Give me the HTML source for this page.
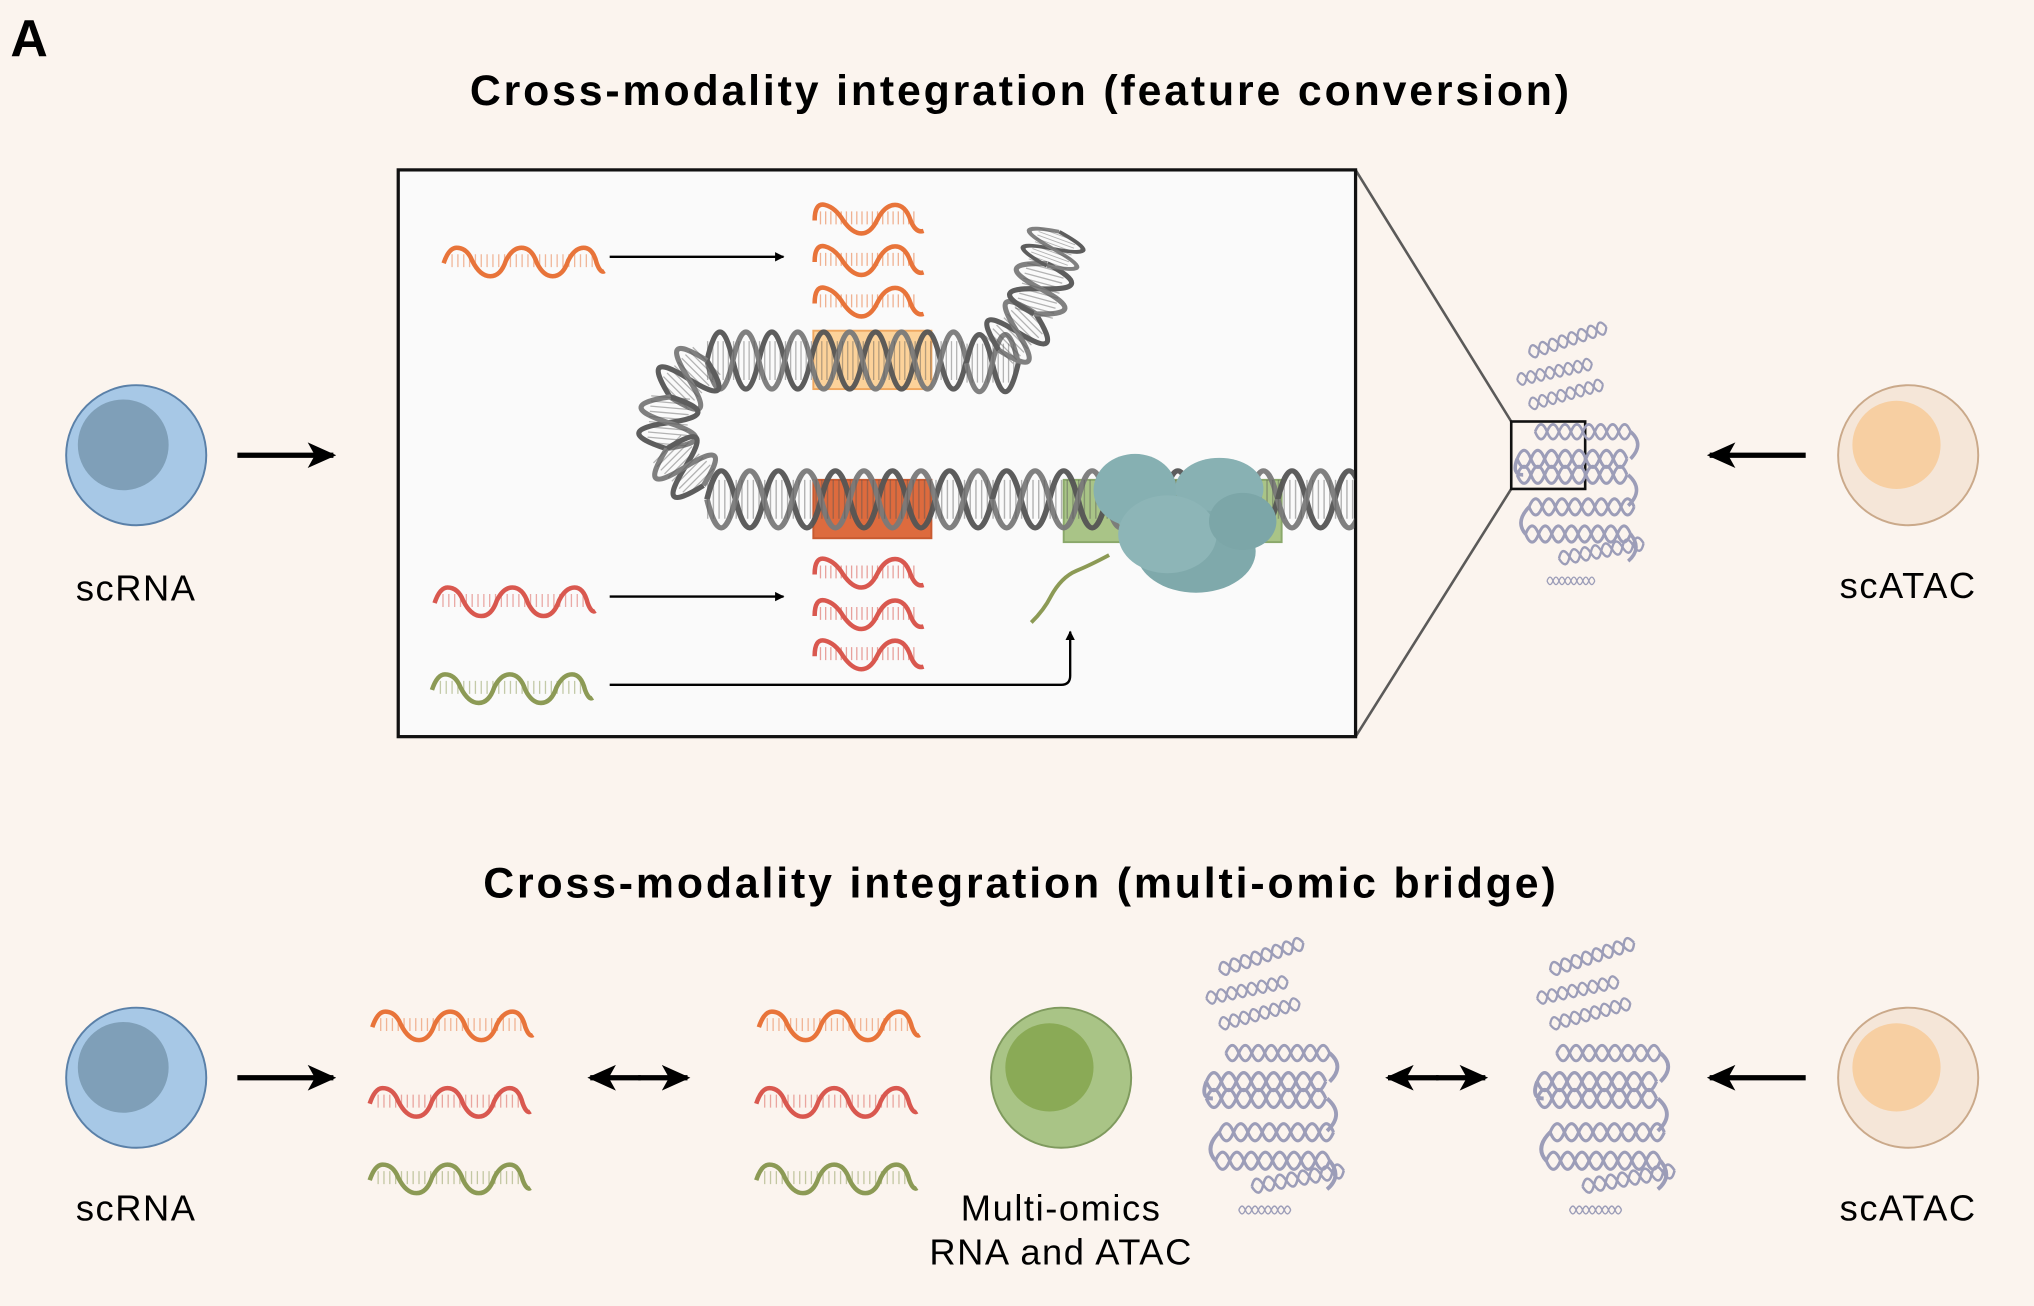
<!DOCTYPE html>
<html><head><meta charset="utf-8"><style>
html,body{margin:0;padding:0;background:#fbf4ee;}
svg{display:block}
text{font-family:"Liberation Sans",sans-serif;}
</style></head><body>
<svg width="2034" height="1306" viewBox="0 0 1568 1007" preserveAspectRatio="none" xmlns="http://www.w3.org/2000/svg">
<defs>
<marker id="ah" viewBox="0 0 10 10" refX="9" refY="5" markerWidth="4" markerHeight="4" orient="auto-start-reverse"><path d="M0,0 L10,5 L0,10 z" fill="#000"/></marker>
<marker id="as" viewBox="0 0 10 10" refX="9" refY="5" markerWidth="5.5" markerHeight="5.5" orient="auto-start-reverse"><path d="M0,0.5 L10,5 L0,9.5 L2.5,5 z" fill="#000"/></marker>
<clipPath id="boxclip"><rect x="308" y="132" width="736" height="435"/></clipPath>
<g id="rnaS">
<path d="M0,8 q0,-14 8,-12 q8,2 14,12 q7,10 14,10 q7,0 12,-10 q6,-12 14,-12 q8,0 12,12 q4,10 10,8" fill="none" stroke="currentColor" stroke-width="3.5"/>
<path d="M4,6 L80,6" stroke="currentColor" stroke-width="10" stroke-dasharray="1 3" opacity="0.55" fill="none"/>
</g>
<g id="rnaL">
<path d="M0,8 q4,-12 10,-12 q8,0 12,10 q6,12 14,12 q8,0 12,-12 q5,-10 12,-10 q8,0 12,12 q5,10 12,10 q8,0 12,-12 q5,-10 12,-10 q7,0 10,12 q3,8 6,6" fill="none" stroke="currentColor" stroke-width="3.5"/>
<path d="M6,6 L118,6" stroke="currentColor" stroke-width="10" stroke-dasharray="1 3.5" opacity="0.5" fill="none"/>
</g>
<g id="hrow">
<path d="M0,0 q5,-12 10,0 t10,0 t10,0 t10,0 t10,0 t10,0 t10,0 t10,0" fill="none" stroke="#9c9db8" stroke-width="2.2"/>
<path d="M0,0 q5,12 10,0 t10,0 t10,0 t10,0 t10,0 t10,0 t10,0 t10,0" fill="none" stroke="#9c9db8" stroke-width="2.2"/>
</g>
<g id="chrom">
<use href="#hrow" transform="translate(15,18) rotate(-18) scale(0.85)"/>
<use href="#hrow" transform="translate(5,40) rotate(-12) scale(0.8)"/>
<use href="#hrow" transform="translate(15,60) rotate(-15) scale(0.8)"/>
<use href="#hrow" transform="translate(20,82) scale(1.0)"/>
<use href="#hrow" transform="translate(5,104) scale(1.15)"/>
<use href="#hrow" transform="translate(5,117) scale(1.15)"/>
<use href="#hrow" transform="translate(15,143) scale(1.1)"/>
<use href="#hrow" transform="translate(12,165) scale(1.1)"/>
<use href="#hrow" transform="translate(40,185) rotate(-10) scale(0.9)"/>
<use href="#hrow" transform="translate(30,203) scale(0.5)"/>
<path d="M100,82 q12,10 0,22 M98,117 q14,12 0,25 M10,117 q-10,0 -5,-13 M15,143 q-12,12 -3,22 M100,165 q10,12 -2,22" fill="none" stroke="#9c9db8" stroke-width="3"/>
</g>
<g id="dnaRow">
<path d="M0,0 q10,-44 20,0 t20,0 t20,0 t20,0 t20,0 t20,0 t20,0 t20,0 t20,0 t20,0" fill="none" stroke="#555" stroke-width="4"/>
<path d="M0,0 q10,44 20,0 t20,0 t20,0 t20,0 t20,0 t20,0 t20,0 t20,0 t20,0 t20,0" fill="none" stroke="#7a7a7a" stroke-width="4"/>
<path d="M0,0 L200,0" stroke="#555" stroke-width="30" stroke-dasharray="1 3" opacity="0.45"/>
</g>
<g id="dnaSeg">
<path d="M0,0 q10,-44 20,0 t20,0" fill="none" stroke="#555" stroke-width="4"/>
<path d="M0,0 q10,44 20,0 t20,0" fill="none" stroke="#7a7a7a" stroke-width="4"/>
<path d="M0,0 L40,0" stroke="#555" stroke-width="30" stroke-dasharray="1 3" opacity="0.45"/>
</g>
</defs>

<rect width="1568" height="1007" fill="#fbf4ee"/>
<text x="8" y="43" font-size="40" font-weight="bold">A</text>
<text x="787" y="81" font-size="33" font-weight="bold" text-anchor="middle" letter-spacing="2.2">Cross-modality integration (feature conversion)</text>

<path d="M1045,131 L1165,325 M1045,568 L1165,377" stroke="#333" stroke-width="2" fill="none" opacity="0.8"/>
<rect x="307" y="131" width="738" height="437" fill="#fafafa" stroke="#111" stroke-width="2.5"/>
<rect x="1165" y="325" width="57" height="52" fill="none" stroke="#111" stroke-width="2"/>

<rect x="627" y="255" width="91" height="45" fill="#fcd29a" stroke="#f0a860" stroke-width="1.5"/>
<rect x="627" y="370" width="91" height="45" fill="#dd6b3e" stroke="#c85a30" stroke-width="1.5"/>
<rect x="820" y="370" width="168" height="48" fill="#a9c487" stroke="#8aa86a" stroke-width="1.5"/>

<g opacity="0.95" clip-path="url(#boxclip)">
<use href="#dnaRow" transform="translate(545,278)"/>
<use href="#dnaRow" transform="translate(545,385) scale(1.1,1)"/>
<use href="#dnaRow" transform="translate(765,385) scale(1.1,1)"/>
<use href="#dnaRow" transform="translate(985,385) scale(1.1,1)"/>
<use href="#dnaSeg" transform="translate(745,280)"/>
<use href="#dnaSeg" transform="translate(770,270) rotate(-45)"/>
<use href="#dnaSeg" transform="translate(797,242) rotate(-75)"/>
<use href="#dnaSeg" transform="translate(807,205) rotate(-70) scale(0.7,1)"/>
<use href="#dnaSeg" transform="translate(545,278) rotate(135)"/>
<use href="#dnaSeg" transform="translate(517,306) rotate(95)"/>
<use href="#dnaSeg" transform="translate(514,346) rotate(45)"/>
</g>

<g>
<ellipse cx="875" cy="378" rx="32" ry="28" fill="#86b0b2"/>
<ellipse cx="940" cy="377" rx="34" ry="24" fill="#88b1b3"/>
<ellipse cx="922" cy="425" rx="46" ry="32" fill="#7fa9ab"/>
<ellipse cx="900" cy="412" rx="38" ry="30" fill="#8db5b7"/>
<ellipse cx="958" cy="402" rx="26" ry="22" fill="#7ca6a8"/>
</g>
<path d="M795,480 q10,-10 15,-20 q8,-15 20,-20 q10,-4 25,-12" fill="none" stroke="#8c9a55" stroke-width="3"/>

<use href="#rnaL" transform="translate(342,195)" color="#e8743a"/>
<use href="#rnaS" transform="translate(628,162)" color="#e8743a"/>
<use href="#rnaS" transform="translate(628,194)" color="#e8743a"/>
<use href="#rnaS" transform="translate(628,226)" color="#e8743a"/>
<use href="#rnaL" transform="translate(335,457)" color="#d9584f"/>
<use href="#rnaS" transform="translate(628,435)" color="#d9584f"/>
<use href="#rnaS" transform="translate(628,467)" color="#d9584f"/>
<use href="#rnaS" transform="translate(628,498)" color="#d9584f"/>
<use href="#rnaL" transform="translate(333,524)" color="#8c9a55"/>
<path d="M470,198 L604,198" stroke="#000" stroke-width="1.8" marker-end="url(#ah)"/>
<path d="M470,460 L604,460" stroke="#000" stroke-width="1.8" marker-end="url(#ah)"/>
<path d="M470,528 L818,528 q7,0 7,-7 L825,487" fill="none" stroke="#000" stroke-width="1.8" marker-end="url(#ah)"/>

<use href="#chrom" transform="translate(1165,255) scale(0.92,0.95)"/>

<g><circle cx="105" cy="351" r="54" fill="#a7c8e6" stroke="#5a80a8" stroke-width="1.5"/><circle cx="95" cy="343" r="35" fill="#7f9fb8"/></g>
<g><circle cx="1471" cy="351" r="54" fill="#f5e6d8" stroke="#caa98a" stroke-width="1.5"/><circle cx="1462" cy="343" r="34" fill="#f7cfa2"/></g>
<path d="M183,351 L257,351" stroke="#000" stroke-width="4" marker-end="url(#as)"/>
<path d="M1392,351 L1318,351" stroke="#000" stroke-width="4" marker-end="url(#as)"/>
<text x="105" y="463" font-size="28" text-anchor="middle" letter-spacing="1.2">scRNA</text>
<text x="1471" y="461" font-size="28" text-anchor="middle" letter-spacing="1.2">scATAC</text>

<text x="787" y="692" font-size="33" font-weight="bold" text-anchor="middle" letter-spacing="2.2">Cross-modality integration (multi-omic bridge)</text>
<g><circle cx="105" cy="831" r="54" fill="#a7c8e6" stroke="#5a80a8" stroke-width="1.5"/><circle cx="95" cy="823" r="35" fill="#7f9fb8"/></g>
<path d="M183,831 L257,831" stroke="#000" stroke-width="4" marker-end="url(#as)"/>
<text x="105" y="941" font-size="28" text-anchor="middle" letter-spacing="1.2">scRNA</text>
<use href="#rnaL" transform="translate(287,784)" color="#e8743a"/>
<use href="#rnaL" transform="translate(285,843)" color="#d9584f"/>
<use href="#rnaL" transform="translate(285,902)" color="#8c9a55"/>
<path d="M492,831 L530,831" stroke="#000" stroke-width="4" marker-end="url(#as)"/>
<path d="M494,831 L455,831" stroke="#000" stroke-width="4" marker-end="url(#as)"/>
<use href="#rnaL" transform="translate(585,784)" color="#e8743a"/>
<use href="#rnaL" transform="translate(583,843)" color="#d9584f"/>
<use href="#rnaL" transform="translate(583,902)" color="#8c9a55"/>
<g><circle cx="818" cy="831" r="54" fill="#a9c486" stroke="#7f9a5e" stroke-width="1.5"/><circle cx="809" cy="823" r="34" fill="#8aaa56"/></g>
<text x="818" y="941" font-size="28" text-anchor="middle" letter-spacing="1.2">Multi-omics</text>
<text x="818" y="975" font-size="28" text-anchor="middle" letter-spacing="1.2">RNA and ATAC</text>
<use href="#chrom" transform="translate(925,730)"/>
<path d="M1107,831 L1145,831" stroke="#000" stroke-width="4" marker-end="url(#as)"/>
<path d="M1109,831 L1070,831" stroke="#000" stroke-width="4" marker-end="url(#as)"/>
<use href="#chrom" transform="translate(1180,730)"/>
<g><circle cx="1471" cy="831" r="54" fill="#f5e6d8" stroke="#caa98a" stroke-width="1.5"/><circle cx="1462" cy="823" r="34" fill="#f7cfa2"/></g>
<path d="M1392,831 L1318,831" stroke="#000" stroke-width="4" marker-end="url(#as)"/>
<text x="1471" y="941" font-size="28" text-anchor="middle" letter-spacing="1.2">scATAC</text>
</svg>
</body></html>
